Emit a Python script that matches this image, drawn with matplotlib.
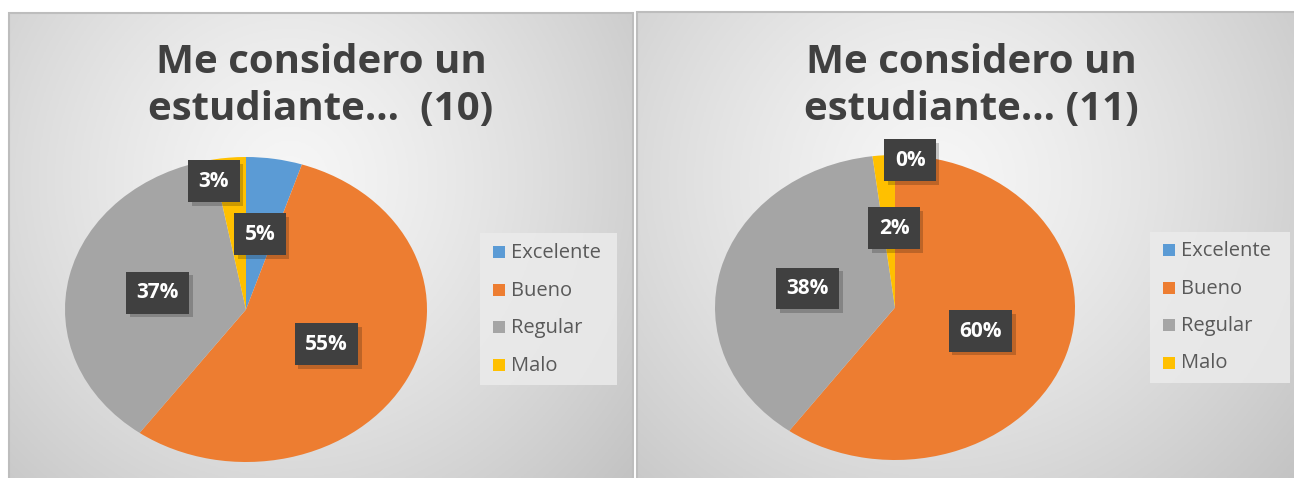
import numpy as np
import matplotlib
matplotlib.use("Agg")
import matplotlib.pyplot as plt
from matplotlib.patches import Rectangle
import matplotlib.patheffects as pe

# ---- data ----
categories = ["Excelente", "Bueno", "Regular", "Malo"]
values_10 = [5, 55, 37, 3]
values_11 = [0, 60, 38, 2]
title_10 = ["Me considero un", "estudiante...  (10)"]
title_11 = ["Me considero un", "estudiante... (11)"]
colors = ["#5B9BD5", "#ED7D31", "#A5A5A5", "#FFC000"]

W, H = 1294, 478
DPI = 100
FONT = "Open Sans"
fig = plt.figure(figsize=(W / DPI, H / DPI), dpi=DPI)
fig.patch.set_facecolor("white")


def fr(x0, y0, x1, y1):
    """pixel box (top-left origin) -> figure fraction rect"""
    return [x0 / W, 1 - y1 / H, (x1 - x0) / W, (y1 - y0) / H]


def panel(x0, y0, x1, y1, cx, cy):
    bg = fig.add_axes(fr(x0, y0, x1, y1), zorder=0)
    nx, ny = 200, 200
    xs = np.linspace(0, 1, nx)
    ys = np.linspace(0, 1, ny)
    X, Y = np.meshgrid(xs, ys)
    d = np.sqrt(((X - cx) * 1.0) ** 2 + ((Y - cy) * 0.75) ** 2)
    d = d / d.max()
    c0, c1 = 0.965, 0.76
    v = c0 + (c1 - c0) * np.clip(d, 0, 1) ** 1.3
    img = np.dstack([v, v, v])
    bg.imshow(img, extent=[0, 1, 0, 1], origin="upper", aspect="auto")
    bg.set_xlim(0, 1)
    bg.set_ylim(0, 1)
    bg.axis("off")
    bg.add_patch(Rectangle((0, 0), 1, 1, transform=bg.transAxes, fill=False,
                           edgecolor="#bdbdbd", lw=1.5, clip_on=False))
    return bg


def px(x, y):
    return x / W, 1 - y / H


def draw_chart(values, title, pie_box, panel_box, title_cx, label_pos, leg_box, leg_rows):
    panel(*panel_box, cx=0.45, cy=0.35)
    for i, line in enumerate(title):
        fig.text(*px(title_cx, 73 + 47 * i), line, ha="center", va="baseline",
                 fontsize=29, fontweight="bold", color="#404040", family=FONT, zorder=5)
    ax = fig.add_axes(fr(*pie_box), zorder=2)
    wedges, _ = ax.pie(values, colors=colors, startangle=90, counterclock=False,
                       radius=1.0, wedgeprops=dict(linewidth=0))
    ax.set_aspect("auto")
    ax.set_xlim(-1, 1)
    ax.set_ylim(-1, 1)
    ax.axis("off")
    # percentage labels
    total = sum(values)
    start = 90.0
    for v, (r, dth) in zip(values, label_pos):
        mid = start - v / total * 360 / 2
        start -= v / total * 360
        th = np.deg2rad(mid + dth)
        t = ax.text(r * np.cos(th), r * np.sin(th), f"{v}%", ha="center", va="center",
                    fontsize=15, fontweight="bold", family=FONT, clip_on=False,
                    color="white", zorder=6,
                    bbox=dict(boxstyle="square,pad=0.5", facecolor="#404040",
                              edgecolor="none"))
        t.get_bbox_patch().set_path_effects(
            [pe.SimplePatchShadow(offset=(2.5, -2.5), shadow_rgbFace="black", alpha=0.2),
             pe.Normal()])
    # legend (manual, built from categories / wedge colors)
    x0, y0, x1, y1 = leg_box
    fig.patches.append(Rectangle((x0 / W, 1 - y1 / H), (x1 - x0) / W, (y1 - y0) / H,
                                 transform=fig.transFigure, facecolor="#ebebeb",
                                 edgecolor="none", alpha=0.85, zorder=1))
    ry0, pitch = leg_rows
    for i, (cat, w) in enumerate(zip(categories, wedges)):
        yc = ry0 + i * pitch
        fig.patches.append(Rectangle(((x0 + 13) / W, 1 - (yc + 6) / H), 12 / W, 12 / H,
                                     transform=fig.transFigure, facecolor=w.get_facecolor(),
                                     edgecolor="none", zorder=3))
        fig.text(*px(x0 + 31, yc + 1), cat, ha="left", va="center", fontsize=14.5,
                 color="#595959", family=FONT, zorder=4)


draw_chart(values_10, title_10, (65, 157, 427, 462), (9, 13, 633, 490), 321,
           [(0.5, 0), (0.5, 0), (0.5, 0), (0.86, 6.5)], (480, 233, 617, 385), (252, 37.7))
draw_chart(values_11, title_11, (715, 155, 1075, 460), (637, 12, 1300, 490), 971,
           [(0.97, -5), (0.5, 0), (0.5, 0), (0.52, -3)], (1150, 232, 1290, 383), (250, 37.5))

fig.savefig("out.png", dpi=DPI)
